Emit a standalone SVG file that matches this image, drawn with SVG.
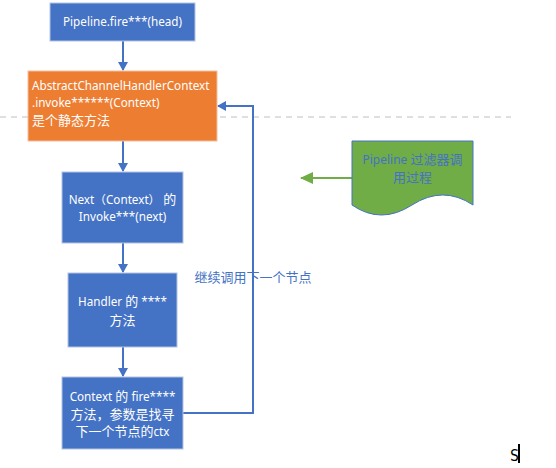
<svg xmlns="http://www.w3.org/2000/svg" width="556" height="468" viewBox="0 0 556 468">
<defs>
<style>
.box{fill:#4472C4;stroke:#B4C4E4;stroke-width:1}
.obox{fill:#ED7D31;stroke:#F2C0A0;stroke-width:1}
.t{font-family:"Noto Sans","Noto Sans CJK SC",sans-serif;font-size:11.7px;fill:#FFFFFF}
.c{text-anchor:middle}
.lbl{font-family:"Noto Sans","Noto Sans CJK SC",sans-serif;font-size:12px;fill:#4472C4}
.con{fill:none;stroke:#4472C4;stroke-width:2}
.k{font-size:13px}
</style>
<marker id="ab" markerWidth="10" markerHeight="10" refX="8" refY="5" orient="auto" markerUnits="userSpaceOnUse">
<path d="M0,0 L9,5 L0,10 Z" fill="#4472C4"/>
</marker>
<marker id="ag" markerWidth="14" markerHeight="12" refX="12" refY="6" orient="auto" markerUnits="userSpaceOnUse">
<path d="M0,0 L13,6 L0,12 Z" fill="#70AD47"/>
</marker>
</defs>
<rect width="556" height="468" fill="#FFFFFF"/>
<line x1="0" y1="117" x2="511" y2="117" stroke="#BFBFBF" stroke-width="1" stroke-dasharray="6,5"/>
<g id="connectors">
<line class="con" x1="123" y1="41" x2="123" y2="70" marker-end="url(#ab)"/>
<line class="con" x1="123" y1="141" x2="123" y2="171" marker-end="url(#ab)"/>
<line class="con" x1="123" y1="243" x2="123" y2="272" marker-end="url(#ab)"/>
<line class="con" x1="123" y1="347" x2="123" y2="376" marker-end="url(#ab)"/>
<polyline class="con" points="183,413 253,413 253,106 218,106" marker-end="url(#ab)"/>
<line x1="352" y1="178" x2="301" y2="178" stroke="#70AD47" stroke-width="2" marker-end="url(#ag)"/>
<text class="lbl k" x="253" y="282" text-anchor="middle">继续调用下一个节点</text>
</g>
<g id="n1">
<rect class="box" x="50" y="3" width="145" height="38"/>
<text class="t c" x="122.5" y="26">Pipeline.fire***(head)</text>
</g>
<g id="n2">
<rect class="obox" x="28" y="71" width="189" height="70"/>
<text class="t" x="32" y="90">AbstractChannelHandlerContext</text>
<text class="t" x="32" y="107">.invoke******(Context)</text>
<text class="t k" x="32" y="125">是个静态方法</text>
</g>
<g id="n3">
<rect class="box" x="62" y="172" width="121" height="71"/>
<text class="t c" x="122.5" y="204">Next（Context） <tspan class="k">的</tspan></text>
<text class="t c" x="122.5" y="221">Invoke***(next)</text>
</g>
<g id="n4">
<rect class="box" x="68" y="273" width="109" height="74"/>
<text class="t c" x="122.5" y="306">Handler <tspan class="k">的</tspan> ****</text>
<text class="t c k" x="122.5" y="325">方法</text>
</g>
<g id="n5">
<rect class="box" x="62" y="377" width="121" height="72"/>
<text class="t c" x="122.5" y="401">Context <tspan class="k">的</tspan> fire****</text>
<text class="t c k" x="122.5" y="419">方法，参数是找寻</text>
<text class="t c" x="122.5" y="436"><tspan class="k">下一个节点的</tspan>ctx</text>
</g>
<g id="n6">
<path d="M352,141 H473 V205 Q443,185 412,205 T352,205 Z" fill="#70AD47" stroke="#4472C4" stroke-width="1"/>
<text class="lbl c" x="412.5" y="164">Pipeline <tspan class="k">过滤器调</tspan></text>
<text class="lbl c k" x="412.5" y="182">用过程</text>
</g>
<text x="510" y="461" font-family="DejaVu Sans Mono, monospace" font-size="15" fill="#000000">S</text>
<rect x="518" y="444" width="2" height="19" fill="#000000"/>
</svg>
